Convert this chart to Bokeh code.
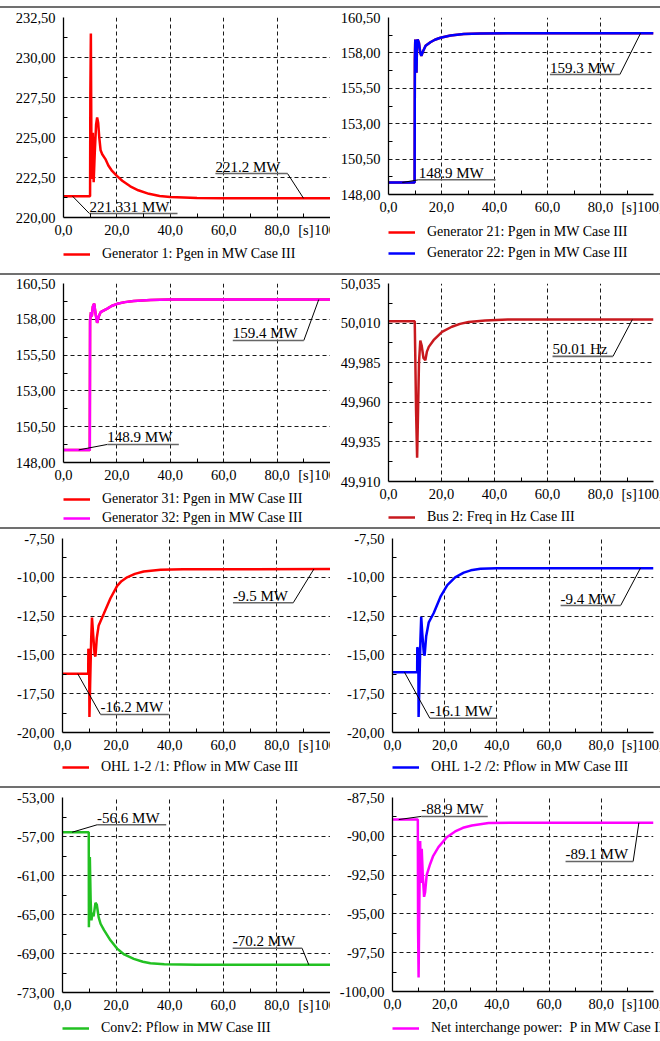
from bokeh.plotting import figure
from bokeh.layouts import column, row
from bokeh.models import Range1d, FixedTicker, Legend, LegendItem, Div
from bokeh.embed import file_html
from bokeh.resources import INLINE

FONT = "Liberation Serif, DejaVu Serif, serif"

# ---------------- data ----------------
x_ticks = [0, 20, 40, 60, 80, 100]
x_labels = ["0,0", "20,0", "40,0", "60,0", "80,0", "100,0"]
unit_label = "[s]"
unit_pos = 90.8

# Panel 1: Generator 1
gen1_t = [0, 9.95, 10.05, 10.25, 10.45, 10.7, 11.0, 11.3, 11.7, 12.2, 12.6, 13.0, 13.4, 13.9, 14.5, 15.7,
          16.8, 18.0, 20.0, 22.0, 25.0, 28.0, 32.0, 36.0, 40.0, 50.0, 60.0, 100.0]
gen1_p = [221.33, 221.33, 227.5, 231.5, 224.5, 222.4, 225.3, 222.2, 224.0, 225.8, 226.25, 225.9, 225.0,
          224.2, 223.95, 223.65, 223.25, 222.95, 222.6, 222.3, 221.95, 221.7, 221.48, 221.35, 221.28,
          221.22, 221.2, 221.2]
p1_yticks = [220.0, 222.5, 225.0, 227.5, 230.0, 232.5]
p1_ylabels = ["220,00", "222,50", "225,00", "227,50", "230,00", "232,50"]

# Panel 2: Generator 21 / 22
gen2_t = [0, 9.85, 9.95, 10.1, 10.25, 10.4, 10.55, 10.75, 11.0, 11.5, 12.0, 12.4, 13.0, 14.0, 15.8, 17.5,
          19.6, 23.4, 28.4, 34.7, 45, 100]
gen21_p = [148.85, 148.85, 157.5, 158.95, 158.5, 157.2, 156.6, 158.4, 158.95, 158.7, 158.0, 157.8, 158.1,
           158.5, 158.75, 158.93, 159.07, 159.23, 159.33, 159.37, 159.38, 159.38]
gen22_p = [148.85, 148.85, 157.5, 158.95, 158.5, 157.2, 156.6, 158.4, 158.95, 158.7, 158.0, 157.8, 158.1,
           158.5, 158.75, 158.93, 159.07, 159.23, 159.33, 159.37, 159.38, 159.38]
gen_yticks = [148.0, 150.5, 153.0, 155.5, 158.0, 160.5]
gen_ylabels = ["148,00", "150,50", "153,00", "155,50", "158,00", "160,50"]

# Panel 3: Generator 31 / 32
gen3_t = [0, 9.85, 9.95, 10.3, 10.6, 11.0, 11.5, 12.0, 12.6, 13.2, 13.9, 16.4, 18.0, 20.1, 23.0, 26.3,
          32.6, 40, 100]
gen31_p = [148.88, 148.88, 157.9, 158.5, 158.2, 158.9, 159.1, 158.4, 157.75, 158.2, 158.5, 158.75, 158.93,
           159.08, 159.2, 159.28, 159.35, 159.38, 159.38]
gen32_p = [148.88, 148.88, 157.9, 158.5, 158.2, 158.9, 159.1, 158.4, 157.75, 158.2, 158.5, 158.75, 158.93,
           159.08, 159.2, 159.28, 159.35, 159.38, 159.38]

# Panel 4: Bus 2 frequency
freq_t = [0, 9.9, 10.1, 10.4, 10.8, 11.1, 11.5, 12.0, 12.5, 13.2, 13.9, 14.5, 15.2, 17.0, 20.2, 23.9, 27.0,
          30.2, 36.5, 45, 100]
freq_v = [50.0112, 50.0112, 49.99, 49.955, 49.925, 49.95, 49.985, 49.999, 49.996, 49.988, 49.9866, 49.992,
          49.995, 49.9992, 50.0045, 50.0077, 50.0095, 50.0107, 50.0117, 50.0122, 50.0122]
freq_yticks = [49.91, 49.935, 49.96, 49.985, 50.01, 50.035]
freq_ylabels = ["49,910", "49,935", "49,960", "49,985", "50,010", "50,035"]

# Panel 5: OHL 1-2 /1
ohl1_t = [0, 9.6, 9.65, 9.95, 10.05, 10.3, 10.7, 11.0, 11.4, 12.0, 12.3, 12.8, 13.5, 15.4, 17.9, 20.4,
          22.0, 24.1, 27.0, 30.3, 36.6, 45, 100]
ohl1_p = [-16.22, -16.22, -14.6, -14.8, -19.0, -17.0, -14.0, -12.6, -13.6, -15.0, -15.1, -13.9, -13.1,
          -12.35, -11.35, -10.55, -10.25, -10.0, -9.78, -9.63, -9.52, -9.48, -9.47]
ohl_yticks = [-20.0, -17.5, -15.0, -12.5, -10.0, -7.5]
ohl_ylabels = ["-20,00", "-17,50", "-15,00", "-12,50", "-10,00", "-7,50"]

# Panel 6: OHL 1-2 /2
ohl2_t = [0, 9.45, 9.5, 9.9, 10.0, 10.3, 10.7, 11.0, 11.4, 12.0, 12.3, 12.9, 13.9, 15.8, 18.4, 21.0, 24.0,
          27.3, 30.0, 33.7, 40, 100]
ohl2_p = [-16.12, -16.12, -14.5, -14.7, -19.0, -17.0, -14.0, -12.55, -13.6, -14.9, -15.05, -13.8, -12.9,
          -12.3, -11.25, -10.5, -10.0, -9.7, -9.55, -9.45, -9.41, -9.41]

# Panel 7: Conv2
conv_t = [0, 9.8, 9.85, 10.0, 10.2, 10.5, 10.8, 11.2, 11.6, 12.3, 12.8, 13.5, 14.2, 15.5, 17.9, 20.4, 23.0,
          26.6, 30.0, 32.8, 38, 50, 100]
conv_p = [-56.56, -56.56, -66.3, -63.0, -59.1, -63.5, -65.6, -64.8, -65.2, -63.8, -64.0, -65.3, -65.95,
          -66.6, -67.65, -68.5, -69.1, -69.55, -69.85, -70.0, -70.1, -70.16, -70.16]
conv_yticks = [-73.0, -69.0, -65.0, -61.0, -57.0, -53.0]
conv_ylabels = ["-73,00", "-69,00", "-65,00", "-61,00", "-57,00", "-53,00"]

# Panel 8: Net interchange power
net_t = [0, 9.7, 9.8, 10.0, 10.3, 10.6, 10.9, 11.2, 11.6, 12.1, 12.5, 13.1, 14.4, 15.5, 17.6, 20.8, 24.0,
         27.0, 30.4, 36.8, 45, 100]
net_p = [-88.92, -88.92, -96.0, -99.1, -94.0, -90.3, -93.0, -90.8, -92.5, -93.9, -93.6, -92.5, -91.8,
         -91.3, -90.7, -90.06, -89.69, -89.45, -89.3, -89.15, -89.12, -89.12]
net_yticks = [-100.0, -97.5, -95.0, -92.5, -90.0, -87.5]
net_ylabels = ["-100,00", "-97,50", "-95,00", "-92,50", "-90,00", "-87,50"]

# value annotations: (text, point t, point value, underline t0, underline t1, underline value, leader side)
ann1 = [("221.2 MW", 89.9, 221.2, 56.9, 83.9, 222.75, "right"),
        ("221.331 MW", 3.4, 221.33, 9.7, 42.7, 220.25, "left")]
ann2 = [("159.3 MW", 95.1, 159.38, 60.9, 87.3, 156.47, "right"),
        ("148.9 MW", 5.2, 148.85, 11.4, 40.4, 149.04, "left")]
ann3 = [("159.4 MW", 95.6, 159.38, 63.4, 90.0, 156.52, "right"),
        ("148.9 MW", 5.7, 148.88, 16.4, 43.2, 149.26, "left")]
ann4 = [("50.01 Hz", 92.0, 50.0122, 61.9, 84.7, 49.989, "right")]
ann5 = [("-9.5 MW", 93.8, -9.47, 63.6, 86.1, -11.64, "right"),
        ("-16.2 MW", 5.7, -16.22, 14.2, 39.7, -18.84, "left")]
ann6 = [("-9.4 MW", 95.0, -9.41, 64.4, 87.4, -11.82, "right"),
        ("-16.1 MW", 4.6, -16.12, 14.3, 40.1, -19.08, "left")]
ann7 = [("-56.6 MW", 3.6, -56.56, 12.9, 38.7, -55.8, "left"),
        ("-70.2 MW", 91.9, -70.16, 63.5, 89.4, -68.46, "right")]
ann8 = [("-88.9 MW", 2.4, -88.92, 11.0, 36.5, -88.72, "left"),
        ("-89.1 MW", 94.4, -89.13, 66.3, 92.2, -91.62, "right")]

RED = "#ff0000"
BLUE = "#0000ff"
MAGENTA = "#ff00ff"
DARKRED = "#c8191e"
GREEN = "#22c122"

XLAB_H = 24   # height of the strip holding the x tick labels
ITEM_H = 16   # legend row height


def midpoints(ticks):
    return [(a + b) / 2 for a, b in zip(ticks[:-1], ticks[1:])]


def no_align(p):
    if "frame_align" in p.properties():
        p.frame_align = False


def make_panel(bl, bt, fw, fh, total_h, yticks, ylabels, series, leg_center, leg_spacing, anns):
    width = 330
    br = width - bl - fw
    ph = bt + fh + XLAB_H
    p = figure(width=width, height=ph, x_range=Range1d(0, 100),
               y_range=Range1d(yticks[0], yticks[-1]),
               output_backend="svg", toolbar_location=None,
               min_border_left=bl, min_border_right=br, min_border_top=bt, min_border_bottom=XLAB_H)
    no_align(p)
    p.outline_line_color = None
    p.background_fill_color = "white"
    p.border_fill_color = "white"

    axis_ticks = x_ticks + [unit_pos]
    p.xaxis.ticker = FixedTicker(ticks=axis_ticks, minor_ticks=midpoints(x_ticks))
    overrides = dict(zip(x_ticks, x_labels))
    overrides[unit_pos] = unit_label
    p.xaxis.major_label_overrides = overrides
    p.xgrid.ticker = FixedTicker(ticks=x_ticks)
    p.yaxis.ticker = FixedTicker(ticks=yticks, minor_ticks=midpoints(yticks))
    p.yaxis.major_label_overrides = dict(zip(yticks, ylabels))
    for ax in (p.xaxis[0], p.yaxis[0]):
        ax.axis_line_color = "black"
        ax.axis_line_width = 1.3
        ax.major_tick_in = 0
        ax.major_tick_out = 0
        ax.minor_tick_in = 4
        ax.minor_tick_out = 0
        ax.minor_tick_line_color = "black"
        ax.major_label_text_font = FONT
        ax.major_label_text_font_size = "14.5px"
        ax.major_label_text_color = "black"
    p.xaxis.major_label_standoff = 4
    p.yaxis.major_label_standoff = 8
    p.grid.grid_line_color = "#1a1a1a"
    p.grid.grid_line_dash = "4 3"
    p.grid.grid_line_width = 1

    for (t, v, color, name) in series:
        p.line(t, v, line_color=color, line_width=2.5)

    for (txt, pt, pv, u0, u1, uy, side) in anns:
        ax_ = u1 if side == "right" else u0
        p.line([ax_, pt], [uy, pv], line_color="black", line_width=1)
        p.line([u0, u1], [uy, uy], line_color="#666666", line_width=1.6)
        p.text(x=[u0], y=[uy], text=[txt], text_baseline="alphabetic", text_align="left",
               y_offset=-7, text_font_size="15px", text_color="black",
               text_font={"value": FONT})

    # legend strip below the plot (its lines reuse the series, which lie outside this strip's range)
    lh = total_h - ph
    lbt = leg_center - ITEM_H // 2 - XLAB_H
    lf = figure(width=width, height=lh, x_range=Range1d(0, 1), y_range=Range1d(0, 1),
                output_backend="svg", toolbar_location=None,
                x_axis_location=None, y_axis_location=None,
                min_border_left=bl, min_border_right=0, min_border_top=lbt, min_border_bottom=0)
    no_align(lf)
    lf.outline_line_color = None
    lf.grid.visible = False
    lf.background_fill_color = "white"
    lf.border_fill_color = "white"
    items = []
    for (t, v, color, name) in series:
        r = lf.line(t, v, line_color=color, line_width=2.5)
        items.append(LegendItem(label=name, renderers=[r]))
    leg = Legend(items=items, location="top_left", orientation="vertical",
                 glyph_width=27, glyph_height=ITEM_H, label_height=ITEM_H, label_standoff=12,
                 spacing=leg_spacing, padding=0, margin=0, border_line_color=None,
                 background_fill_alpha=0, label_text_font=FONT, label_text_font_size="14px",
                 label_text_color="black")
    lf.add_layout(leg)
    return column(p, lf, spacing=0)


# page rows: [0-8] top rule, [8-273] row 1, [275-527] row 2, [529-786] row 3, [788-1041] row 4
c1 = make_panel(63, 9, 267, 200, 265, p1_yticks, p1_ylabels,
                [(gen1_t, gen1_p, RED, "Generator 1: Pgen in MW Case III")], 37, 3, ann1)
c2 = make_panel(58, 9, 265, 177, 265, gen_yticks, gen_ylabels,
                [(gen2_t, gen21_p, RED, "Generator 21: Pgen in MW Case III"),
                 (gen2_t, gen22_p, BLUE, "Generator 22: Pgen in MW Case III")], 38, 5, ann2)
c3 = make_panel(63, 8, 267, 179, 252, gen_yticks, gen_ylabels,
                [(gen3_t, gen31_p, RED, "Generator 31: Pgen in MW Case III"),
                 (gen3_t, gen32_p, MAGENTA, "Generator 32: Pgen in MW Case III")], 37, 3, ann3)
c4 = make_panel(58, 8, 265, 198, 252, freq_yticks, freq_ylabels,
                [(freq_t, freq_v, DARKRED, "Bus 2: Freq in Hz Case III")], 36, 3, ann4)
c5 = make_panel(62, 9, 268, 194, 257, ohl_yticks, ohl_ylabels,
                [(ohl1_t, ohl1_p, RED, "OHL 1-2 /1: Pflow in MW Case III")], 35, 3, ann5)
c6 = make_panel(62, 9, 261, 194, 257, ohl_yticks, ohl_ylabels,
                [(ohl2_t, ohl2_p, BLUE, "OHL 1-2 /2: Pflow in MW Case III")], 35, 3, ann6)
c7 = make_panel(62, 9, 268, 195, 253, conv_yticks, conv_ylabels,
                [(conv_t, conv_p, GREEN, "Conv2: Pflow in MW Case III")], 36, 3, ann7)
c8 = make_panel(62, 9, 261, 194, 253, net_yticks, net_ylabels,
                [(net_t, net_p, MAGENTA, "Net interchange power:  P in MW Case III")], 37, 3, ann8)


def sep(h=2, color="#707070"):
    return Div(text="", width=660, height=h, margin=(0, 0, 0, 0),
               styles={"background-color": color})


layout = column(sep(6, "white"), sep(), row(c1, c2, spacing=0), sep(), row(c3, c4, spacing=0), sep(),
                row(c5, c6, spacing=0), sep(), row(c7, c8, spacing=0), spacing=0)

open("out.html", "w").write(file_html(layout, INLINE))
